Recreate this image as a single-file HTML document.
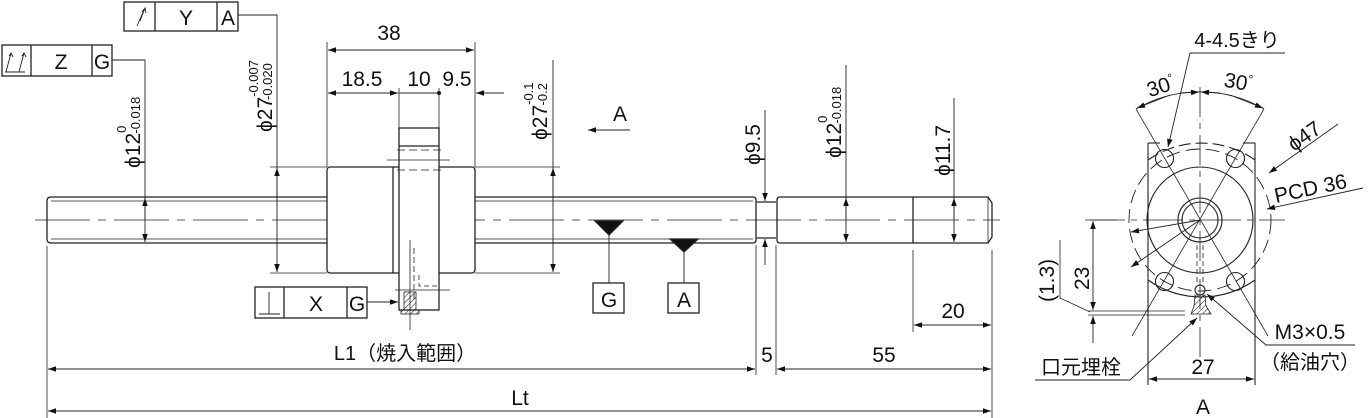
<!DOCTYPE html>
<html><head><meta charset="utf-8"><style>
html,body{margin:0;padding:0;background:#fff;}
svg{display:block;}
text{font-family:"Liberation Sans","Noto Sans CJK JP",sans-serif;fill:#111;}
</style></head><body>
<svg width="1371" height="418" viewBox="0 0 1371 418" xmlns="http://www.w3.org/2000/svg">
<defs>
<marker id="a" viewBox="0 0 10 10" refX="10" refY="5" markerWidth="13" markerHeight="8" orient="auto-start-reverse" markerUnits="userSpaceOnUse"><path d="M0,1.5 L10,5 L0,8.5 Z" fill="#111"/></marker>
<pattern id="h" width="4" height="4" patternUnits="userSpaceOnUse" patternTransform="rotate(45)"><line x1="0" y1="0" x2="0" y2="4" stroke="#111" stroke-width="1"/></pattern>
</defs>
<g stroke="#222" stroke-width="1.3" fill="none">
<path d="M51,197 L753,197 Q756,197 756,200 L756,240 Q756,243 753,243 L51,243 Q47,243 47,239 L47,201 Q47,197 51,197 Z"/>
<line x1="51" y1="201" x2="753" y2="201" stroke-width="0.8"/>
<line x1="51" y1="239" x2="753" y2="239" stroke-width="0.8"/>
<line x1="756" y1="202" x2="776" y2="202"/><line x1="756" y1="238" x2="776" y2="238"/>
<path d="M780,197 L988,197 L992,203 L992,237 L988,243 L780,243 Q777,243 777,240 L777,200 Q777,197 780,197 Z"/>
<line x1="913" y1="197" x2="913" y2="243"/>
<line x1="988" y1="197" x2="988" y2="243" stroke-width="0.8"/>
<line x1="35" y1="220" x2="1000" y2="220" stroke-width="0.8" stroke-dasharray="55,8,8,8"/>
<rect x="327" y="167" width="148" height="106" rx="3" fill="#fff"/>
<line x1="393" y1="167" x2="393" y2="273"/>
<rect x="399" y="128" width="40" height="182" fill="#fff"/>
<line x1="399" y1="146" x2="439" y2="146"/>
<line x1="397" y1="150" x2="443" y2="150" stroke-width="0.8" stroke-dasharray="8,4"/>
<line x1="387" y1="160" x2="450" y2="160" stroke-width="0.8"/>
<line x1="397" y1="170" x2="443" y2="170" stroke-width="0.8" stroke-dasharray="8,4"/>
<line x1="410" y1="240" x2="410" y2="330" stroke-width="0.8"/>
<line x1="414" y1="248" x2="414" y2="300" stroke-width="0.8" stroke-dasharray="6,3"/>
<path d="M419,275 L419,286 L438,286" stroke-width="0.8" stroke-dasharray="5,3"/>
<line x1="395" y1="290" x2="450" y2="290" stroke-width="0.8"/>
<rect x="404" y="292" width="12" height="18" fill="url(#h)" stroke-width="0.8"/>
<rect x="401" y="310" width="18" height="4" fill="url(#h)" stroke-width="0.8"/>
<line x1="270" y1="167" x2="327" y2="167" stroke-width="0.8"/>
<line x1="270" y1="273" x2="327" y2="273" stroke-width="0.8"/>
<line x1="475" y1="167" x2="560" y2="167" stroke-width="0.8"/>
<line x1="475" y1="273" x2="560" y2="273" stroke-width="0.8"/>
<line x1="327" y1="42" x2="327" y2="167" stroke-width="0.8"/>
<line x1="475" y1="42" x2="475" y2="167" stroke-width="0.8"/>
<line x1="399" y1="88" x2="399" y2="128" stroke-width="0.8"/>
<line x1="439" y1="88" x2="439" y2="128" stroke-width="0.8"/>
<line x1="328" y1="50" x2="474" y2="50" stroke-width="0.9" marker-start="url(#a)" marker-end="url(#a)"/>
<line x1="328" y1="93" x2="398" y2="93" stroke-width="0.9" marker-start="url(#a)" marker-end="url(#a)"/>
<line x1="399" y1="93" x2="439" y2="93" stroke-width="0.9"/>
<circle cx="439" cy="93" r="1.5" fill="#111"/>
<line x1="504" y1="93" x2="476" y2="93" stroke-width="0.9" marker-end="url(#a)"/>
<path d="M112,60 L145,60 L145,242" stroke-width="0.9" marker-end="url(#a)"/>
<line x1="145" y1="220" x2="145" y2="198" stroke-width="0.9" marker-end="url(#a)"/>
<path d="M238,15 L277,15 L277,272" stroke-width="0.9" marker-end="url(#a)"/>
<line x1="277" y1="200" x2="277" y2="168" stroke-width="0.9" marker-end="url(#a)"/>
<line x1="553" y1="60" x2="553" y2="272" stroke-width="0.9" marker-end="url(#a)"/>
<line x1="553" y1="200" x2="553" y2="168" stroke-width="0.9" marker-end="url(#a)"/>
<line x1="630" y1="130" x2="588" y2="130" stroke-width="0.9" marker-end="url(#a)"/>
<line x1="765" y1="110" x2="765" y2="201" stroke-width="0.9" marker-end="url(#a)"/>
<line x1="765" y1="265" x2="765" y2="239" stroke-width="0.9" marker-end="url(#a)"/>
<line x1="756" y1="245" x2="756" y2="375" stroke-width="0.8"/>
<line x1="776" y1="245" x2="776" y2="375" stroke-width="0.8"/>
<line x1="846" y1="65" x2="846" y2="242" stroke-width="0.9" marker-end="url(#a)"/>
<line x1="846" y1="220" x2="846" y2="198" stroke-width="0.9" marker-end="url(#a)"/>
<line x1="954" y1="98" x2="954" y2="242" stroke-width="0.9" marker-end="url(#a)"/>
<line x1="954" y1="220" x2="954" y2="198" stroke-width="0.9" marker-end="url(#a)"/>
<path d="M595,221 L623,221 L609,235 Z" fill="#111"/>
<line x1="609" y1="233" x2="609" y2="283" stroke-width="0.9"/>
<rect x="593" y="283" width="31" height="30" fill="#fff"/>
<path d="M670,239 L698,239 L684,252 Z" fill="#111"/>
<line x1="684" y1="250" x2="684" y2="283" stroke-width="0.9"/>
<rect x="668" y="283" width="31" height="30" fill="#fff"/>
<line x1="913" y1="250" x2="913" y2="332" stroke-width="0.8"/>
<line x1="992" y1="250" x2="992" y2="418" stroke-width="0.8"/>
<line x1="914" y1="325" x2="991" y2="325" stroke-width="0.9" marker-start="url(#a)" marker-end="url(#a)"/>
<line x1="47" y1="246" x2="47" y2="418" stroke-width="0.8"/>
<line x1="48" y1="369" x2="755" y2="369" stroke-width="0.9" marker-start="url(#a)" marker-end="url(#a)"/>
<line x1="777" y1="369" x2="991" y2="369" stroke-width="0.9" marker-start="url(#a)" marker-end="url(#a)"/>
<line x1="48" y1="411" x2="991" y2="411" stroke-width="0.9" marker-start="url(#a)" marker-end="url(#a)"/>
<rect x="124" y="2" width="114" height="29"/><line x1="155" y1="2" x2="155" y2="31"/><line x1="217" y1="2" x2="217" y2="31"/>
<path d="M137,26 L145,8 M142,12 L145,8 L146,13 M145,8 L140,21" stroke-width="0.9"/>
<rect x="2" y="45" width="110" height="31"/><line x1="31" y1="45" x2="31" y2="76"/><line x1="92" y1="45" x2="92" y2="76"/>
<path d="M5,72 L25,72 M6,72 L11,53 M9,56 L11,53 L13,57 M19,72 L24,53 M22,56 L24,53 L26,57" stroke-width="0.9"/>
<rect x="255" y="287" width="112" height="31"/><line x1="284" y1="287" x2="284" y2="318"/><line x1="347" y1="287" x2="347" y2="318"/>
<path d="M259,314 L280,314 M269,292 L269,314" stroke-width="0.9"/>
<line x1="367" y1="302" x2="398" y2="302" stroke-width="0.9" marker-end="url(#a)"/>
</g>
<g stroke="#222" stroke-width="1.1" fill="none">
<line x1="1148" y1="143" x2="1148" y2="385"/>
<line x1="1255" y1="143" x2="1255" y2="385"/>
<path d="M1148,160 A93,93 0 0 1 1255,160" stroke-dasharray="12,5"/>
<path d="M1148,280 A93,93 0 0 0 1255,280" />
<line x1="1148" y1="143" x2="1160" y2="143"/><line x1="1243" y1="143" x2="1255" y2="143"/>
<circle cx="1200" cy="220" r="71" stroke-dasharray="14,6" stroke-width="0.9"/>
<circle cx="1200" cy="220" r="53"/>
<circle cx="1200" cy="220" r="22"/>
<circle cx="1200" cy="220" r="18"/>
<circle cx="1164.5" cy="158.5" r="9"/><circle cx="1235.5" cy="158.5" r="9"/>
<circle cx="1164.5" cy="281.5" r="9"/><circle cx="1235.5" cy="281.5" r="9"/>
<g stroke-width="0.8">
<line x1="1136" y1="109" x2="1268" y2="336"/>
<line x1="1264" y1="109" x2="1132" y2="336"/>
<line x1="1200" y1="87" x2="1200" y2="360" stroke-dasharray="30,6,6,6"/>
<line x1="1085" y1="220" x2="1285" y2="220" stroke-dasharray="40,6,6,6"/>
</g>
<path d="M1136,109 A128,128 0 0 1 1264,109" stroke-width="0.9"/>
<line x1="1170" y1="95" x2="1137" y2="108" stroke-width="0.9" marker-end="url(#a)"/>
<line x1="1180" y1="93" x2="1199" y2="92" stroke-width="0.9" marker-end="url(#a)"/>
<line x1="1220" y1="93" x2="1201" y2="92" stroke-width="0.9" marker-end="url(#a)"/>
<line x1="1230" y1="95" x2="1263" y2="108" stroke-width="0.9" marker-end="url(#a)"/>
<path d="M1285,53 L1190,53 L1168,147" stroke-width="0.9" marker-end="url(#a)"/>
<line x1="1338" y1="124" x2="1269" y2="173" stroke-width="0.9" marker-end="url(#a)"/>
<line x1="1200" y1="220" x2="1131" y2="267" stroke-width="0.9" marker-end="url(#a)"/>
<line x1="1363" y1="188" x2="1267" y2="209" stroke-width="0.9" marker-end="url(#a)"/>
<line x1="1200" y1="220" x2="1131" y2="232" stroke-width="0.9" marker-end="url(#a)"/>
<line x1="1197" y1="245" x2="1197" y2="285" stroke-width="0.8" stroke-dasharray="5,3"/>
<line x1="1203" y1="245" x2="1203" y2="285" stroke-width="0.8" stroke-dasharray="5,3"/>
<circle cx="1200" cy="290" r="5"/>
<path d="M1195,295 L1205,295 L1206,306 L1211,314 L1191,314 L1194,306 Z" fill="url(#h)" stroke-width="0.8"/>
<line x1="1090" y1="220" x2="1117" y2="220" stroke-width="0.8"/>
<line x1="1088" y1="311" x2="1185" y2="311" stroke-width="0.8"/>
<line x1="1088" y1="315" x2="1185" y2="315" stroke-width="0.8"/>
<line x1="1093" y1="221" x2="1093" y2="310" stroke-width="0.9" marker-start="url(#a)" marker-end="url(#a)"/>
<line x1="1093" y1="316" x2="1093" y2="343" stroke-width="0.9" marker-start="url(#a)"/>
<path d="M1060,240 L1060,298 L1090,312" stroke-width="0.8"/>
<path d="M1355,345 L1266,345 L1207,294" stroke-width="0.9" marker-end="url(#a)"/>
<path d="M1035,380 L1130,380 L1197,318" stroke-width="0.9" marker-end="url(#a)"/>
<line x1="1149" y1="379" x2="1254" y2="379" stroke-width="0.9" marker-start="url(#a)" marker-end="url(#a)"/>
</g>
<g font-size="21">
<text x="389" y="40" text-anchor="middle">38</text>
<text x="362" y="86" text-anchor="middle">18.5</text>
<text x="419" y="86" text-anchor="middle">10</text>
<text x="457" y="86" text-anchor="middle">9.5</text>
<text x="186" y="25" text-anchor="middle">Y</text>
<text x="228" y="25" text-anchor="middle">A</text>
<text x="61" y="69" text-anchor="middle">Z</text>
<text x="102" y="69" text-anchor="middle">G</text>
<text x="316" y="311" text-anchor="middle">X</text>
<text x="357" y="311" text-anchor="middle">G</text>
<text x="609" y="307" text-anchor="middle">G</text>
<text x="684" y="307" text-anchor="middle">A</text>
<text x="620" y="121" text-anchor="middle">A</text>
<text x="953" y="318" text-anchor="middle">20</text>
<text x="405" y="360" text-anchor="middle" font-size="20">L1（焼入範囲）</text>
<text x="767" y="362" text-anchor="middle">5</text>
<text x="884" y="362" text-anchor="middle">55</text>
<text x="520" y="405" text-anchor="middle">Lt</text>
<text transform="translate(140,168) rotate(-90)">ϕ12<tspan font-size="13" dy="-14">0</tspan><tspan font-size="13" dx="-8" dy="14">-0.018</tspan></text>
<text transform="translate(272,132) rotate(-90)">ϕ27<tspan font-size="13" dy="-14">-0.007</tspan><tspan font-size="13" dx="-40" dy="14">-0.020</tspan></text>
<text transform="translate(547,140) rotate(-90)">ϕ27<tspan font-size="13" dy="-14">-0.1</tspan><tspan font-size="13" dx="-23" dy="14">-0.2</tspan></text>
<text transform="translate(760,165) rotate(-90)">ϕ9.5</text>
<text transform="translate(841,158) rotate(-90)">ϕ12<tspan font-size="13" dy="-14">0</tspan><tspan font-size="13" dx="-8" dy="14">-0.018</tspan></text>
<text transform="translate(950,176) rotate(-90)">ϕ11.7</text>
<text x="1237" y="47" text-anchor="middle" font-size="20">4-4.5きり</text>
<text transform="translate(1163,93) rotate(-18)" text-anchor="middle">30<tspan font-size="12" dy="-8">°</tspan></text>
<text transform="translate(1237,89) rotate(10)" text-anchor="middle">30<tspan font-size="12" dy="-8">°</tspan></text>
<text transform="translate(1294,152) rotate(-35)">ϕ47</text>
<text transform="translate(1276,203) rotate(-12)">PCD 36</text>
<text transform="translate(1089,290) rotate(-90)">23</text>
<text transform="translate(1054,302) rotate(-90)">(1.3)</text>
<text x="1310" y="339" text-anchor="middle">M3×0.5</text>
<text x="1310" y="369" text-anchor="middle" font-size="20">（給油穴）</text>
<text x="1081" y="374" text-anchor="middle" font-size="20">口元埋栓</text>
<text x="1203" y="374" text-anchor="middle">27</text>
<text x="1203" y="414" text-anchor="middle">A</text>
</g>
</svg>
</body></html>
